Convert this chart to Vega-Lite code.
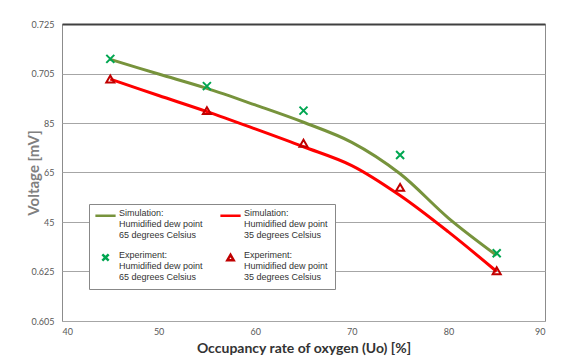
{
  "$schema": "https://vega.github.io/schema/vega-lite/v6.json",
  "width": 483,
  "height": 297,
  "autosize": "none",
  "padding": {"left": 62, "top": 24, "right": 28, "bottom": 43},
  "background": "white",
  "config": {
    "view": {"stroke": "#8c8c8c", "strokeWidth": 1},
    "font": "Lato",
    "axis": {"labelFont": "Lato", "labelFontSize": 9, "labelColor": "#595959", "titleFont": "Lato", "titleFontWeight": "bold"},
    "legend": {"labelFont": "Liberation Sans", "labelFontSize": 9, "labelColor": "#333333"}
  },
  "data": {
    "values": [
      {"kind": "sim", "series": "Simulation:|Humidified dew point|65 degrees Celsius", "x": 45, "y": 0.7107},
      {"kind": "sim", "series": "Simulation:|Humidified dew point|65 degrees Celsius", "x": 50, "y": 0.7048},
      {"kind": "sim", "series": "Simulation:|Humidified dew point|65 degrees Celsius", "x": 55, "y": 0.6990},
      {"kind": "sim", "series": "Simulation:|Humidified dew point|65 degrees Celsius", "x": 60, "y": 0.6923},
      {"kind": "sim", "series": "Simulation:|Humidified dew point|65 degrees Celsius", "x": 65, "y": 0.6853},
      {"kind": "sim", "series": "Simulation:|Humidified dew point|65 degrees Celsius", "x": 70, "y": 0.6772},
      {"kind": "sim", "series": "Simulation:|Humidified dew point|65 degrees Celsius", "x": 75, "y": 0.6645},
      {"kind": "sim", "series": "Simulation:|Humidified dew point|65 degrees Celsius", "x": 80, "y": 0.6466},
      {"kind": "sim", "series": "Simulation:|Humidified dew point|65 degrees Celsius", "x": 85, "y": 0.6315},
      {"kind": "sim", "series": "Simulation:|Humidified dew point|35 degrees Celsius", "x": 45, "y": 0.7027},
      {"kind": "sim", "series": "Simulation:|Humidified dew point|35 degrees Celsius", "x": 50, "y": 0.6961},
      {"kind": "sim", "series": "Simulation:|Humidified dew point|35 degrees Celsius", "x": 55, "y": 0.6896},
      {"kind": "sim", "series": "Simulation:|Humidified dew point|35 degrees Celsius", "x": 60, "y": 0.6826},
      {"kind": "sim", "series": "Simulation:|Humidified dew point|35 degrees Celsius", "x": 65, "y": 0.6754},
      {"kind": "sim", "series": "Simulation:|Humidified dew point|35 degrees Celsius", "x": 70, "y": 0.6678},
      {"kind": "sim", "series": "Simulation:|Humidified dew point|35 degrees Celsius", "x": 75, "y": 0.6557},
      {"kind": "sim", "series": "Simulation:|Humidified dew point|35 degrees Celsius", "x": 80, "y": 0.6410},
      {"kind": "sim", "series": "Simulation:|Humidified dew point|35 degrees Celsius", "x": 85, "y": 0.6250},
      {"kind": "exp", "series": "Experiment:|Humidified dew point|65 degrees Celsius", "x": 45, "y": 0.7109},
      {"kind": "exp", "series": "Experiment:|Humidified dew point|65 degrees Celsius", "x": 55, "y": 0.6999},
      {"kind": "exp", "series": "Experiment:|Humidified dew point|65 degrees Celsius", "x": 65, "y": 0.6900},
      {"kind": "exp", "series": "Experiment:|Humidified dew point|65 degrees Celsius", "x": 75, "y": 0.6721},
      {"kind": "exp", "series": "Experiment:|Humidified dew point|65 degrees Celsius", "x": 85, "y": 0.6324},
      {"kind": "exp", "series": "Experiment:|Humidified dew point|35 degrees Celsius", "x": 45, "y": 0.7028},
      {"kind": "exp", "series": "Experiment:|Humidified dew point|35 degrees Celsius", "x": 55, "y": 0.6900},
      {"kind": "exp", "series": "Experiment:|Humidified dew point|35 degrees Celsius", "x": 65, "y": 0.6768},
      {"kind": "exp", "series": "Experiment:|Humidified dew point|35 degrees Celsius", "x": 75, "y": 0.6590},
      {"kind": "exp", "series": "Experiment:|Humidified dew point|35 degrees Celsius", "x": 85, "y": 0.6253}
    ]
  },
  "encoding": {
    "x": {
      "field": "x", "type": "quantitative",
      "scale": {"domain": [40, 90], "nice": false, "zero": false},
      "axis": {"values": [40, 50, 60, 70, 80, 90], "grid": false, "ticks": false, "domain": false, "labelPadding": 6, "title": "Occupancy rate of oxygen (Uo) [%]", "titleColor": "#333333", "titleFontSize": 14, "titlePadding": 5}
    },
    "y": {
      "field": "y", "type": "quantitative",
      "scale": {"domain": [0.605, 0.725], "nice": false, "zero": false},
      "axis": {
        "values": [0.605, 0.625, 0.645, 0.665, 0.685, 0.705, 0.725],
        "labelExpr": "abs(datum.value-0.645)<0.001 ? '45' : abs(datum.value-0.665)<0.001 ? '65' : abs(datum.value-0.685)<0.001 ? '85' : format(datum.value, '.3f')",
        "grid": true,
        "gridColor": {"condition": {"test": "datum.value > 0.72", "value": "#404040"}, "value": "#a6a6a6"},
        "gridWidth": {"condition": {"test": "datum.value > 0.72", "value": 2}, "value": 1},
        "ticks": false, "domain": false, "labelPadding": 8,
        "title": "Voltage [mV]", "titleColor": "#808080", "titleFontSize": 15, "titlePadding": -11
      }
    }
  },
  "layer": [
    {
      "transform": [{"filter": "datum.kind === 'sim'"}],
      "mark": {"type": "line", "interpolate": "catmull-rom", "strokeWidth": 3},
      "encoding": {
        "color": {"field": "series", "type": "nominal",
          "scale": {"domain": ["Simulation:|Humidified dew point|65 degrees Celsius", "Simulation:|Humidified dew point|35 degrees Celsius", "Experiment:|Humidified dew point|65 degrees Celsius", "Experiment:|Humidified dew point|35 degrees Celsius"],
                    "range": ["#77933c", "#ff0000", "#00a651", "#c00000"]},
          "legend": {"orient": "none", "legendX": 27, "legendY": 180, "columns": 2, "direction": "horizontal", "title": null,
            "strokeColor": "#888888", "fillColor": "white", "padding": 7,
            "labelExpr": "split(datum.label, '|')", "labelLimit": 300, "labelBaseline": "alphabetic",
            "symbolSize": 40, "symbolOffset": 5, "symbolStrokeWidth": 2.5, "rowPadding": 9, "columnPadding": 12, "labelOffset": 9}}
      }
    },
    {
      "transform": [{"filter": "datum.kind === 'exp'"}],
      "mark": {"type": "point", "filled": false, "strokeWidth": 2, "size": 64, "opacity": 1},
      "encoding": {
        "color": {"field": "series", "type": "nominal",
          "scale": {"domain": ["Simulation:|Humidified dew point|65 degrees Celsius", "Simulation:|Humidified dew point|35 degrees Celsius", "Experiment:|Humidified dew point|65 degrees Celsius", "Experiment:|Humidified dew point|35 degrees Celsius"],
                    "range": ["#77933c", "#ff0000", "#00a651", "#c00000"]}},
        "shape": {"field": "series", "type": "nominal",
          "scale": {"domain": ["Simulation:|Humidified dew point|65 degrees Celsius", "Simulation:|Humidified dew point|35 degrees Celsius", "Experiment:|Humidified dew point|65 degrees Celsius", "Experiment:|Humidified dew point|35 degrees Celsius"],
                    "range": ["M-3.2,0L3.2,0", "M-3.2,0L3.2,0", "M-1,-1L1,1M-1,1L1,-1", "triangle-up"]}}
      }
    }
  ]
}
